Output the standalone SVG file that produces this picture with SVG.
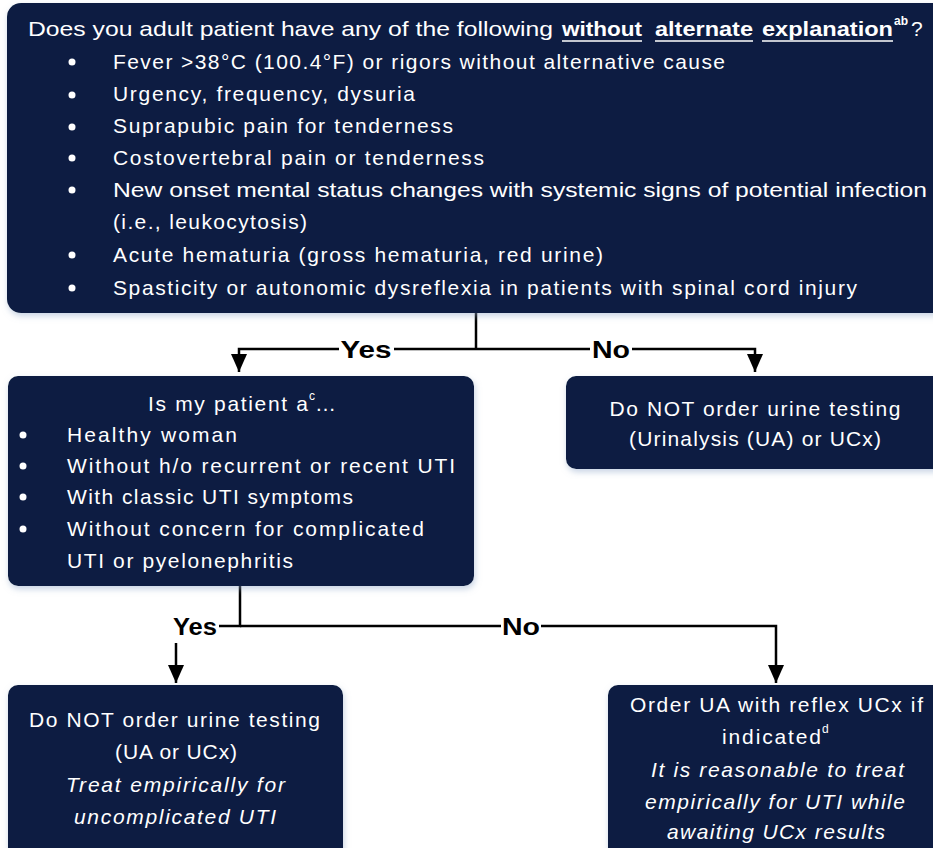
<svg xmlns="http://www.w3.org/2000/svg" width="933" height="848" viewBox="0 0 933 848">
<style>
.box{fill:#071f43;filter:url(#sh);}
.t{font-family:"Liberation Sans",Arial,sans-serif;font-size:21px;fill:#ffffff;}
.c{text-anchor:middle;}
.i{font-style:italic;}
.b{font-weight:bold;}
.sup{font-size:12px;}
.lbl{font-family:"Liberation Sans",Arial,sans-serif;font-size:23px;font-weight:bold;fill:#000;text-anchor:middle;}
.ln{fill:none;stroke:#000;stroke-width:2.5;}
.dot{fill:#fff;}
</style>
<defs>
<filter id="sh" x="-5%" y="-5%" width="110%" height="115%">
<feDropShadow dx="1" dy="3" stdDeviation="3" flood-color="#8fa6c8" flood-opacity="0.5"/>
</filter>
<marker id="ad" markerUnits="userSpaceOnUse" markerWidth="18" markerHeight="16" refX="18" refY="8" orient="auto" viewBox="0 0 18 16">
<path d="M0 0 L18 8 L0 16 Z" fill="#000"/>
</marker>
</defs>
<rect width="933" height="848" fill="#ffffff"/>

<g id="connectors">
<path class="ln" d="M476 313 V349"/>
<path class="ln" d="M339 349 H239 V372" marker-end="url(#ad)"/>
<path class="ln" d="M394 349 H590"/>
<path class="ln" d="M632 349 H755 V372" marker-end="url(#ad)"/>
<path class="ln" d="M240 586 V626 H219"/>
<path class="ln" d="M240 626 H501"/>
<path class="ln" d="M541 626 H776 V683" marker-end="url(#ad)"/>
<path class="ln" d="M176 643 V683" marker-end="url(#ad)"/>
<text class="lbl" x="366" y="358" textLength="51" lengthAdjust="spacingAndGlyphs">Yes</text>
<text class="lbl" x="611" y="358" textLength="38" lengthAdjust="spacingAndGlyphs">No</text>
<text class="lbl" x="195" y="635" textLength="44" lengthAdjust="spacingAndGlyphs">Yes</text>
<text class="lbl" x="521" y="635" textLength="38" lengthAdjust="spacingAndGlyphs">No</text>
</g>

<g id="q1">
<rect class="box" x="7" y="3" width="945" height="310" rx="14"/>
<text class="t" x="28" y="36" textLength="525" lengthAdjust="spacingAndGlyphs">Does you adult patient have any of the following</text>
<text class="t b" x="562" y="36" textLength="80" lengthAdjust="spacingAndGlyphs">without</text>
<text class="t b" x="655" y="36" textLength="98" lengthAdjust="spacingAndGlyphs">alternate</text>
<text class="t b" x="762" y="36" textLength="131" lengthAdjust="spacingAndGlyphs">explanation</text>
<text class="t b sup" x="894" y="25">ab</text>
<text class="t" x="911" y="36">?</text>
<path d="M562 41 H642 M655 41 H753 M762 41 H893" stroke="#fff" stroke-width="1.6"/>
<circle class="dot" cx="72" cy="62" r="3.5"/>
<circle class="dot" cx="72" cy="95" r="3.5"/>
<circle class="dot" cx="72" cy="127" r="3.5"/>
<circle class="dot" cx="72" cy="158" r="3.5"/>
<circle class="dot" cx="72" cy="190" r="3.5"/>
<circle class="dot" cx="72" cy="255" r="3.5"/>
<circle class="dot" cx="72" cy="288" r="3.5"/>
<text class="t" x="113" y="69" textLength="612" lengthAdjust="spacing">Fever &gt;38°C (100.4°F) or rigors without alternative cause</text>
<text class="t" x="113" y="101" textLength="302" lengthAdjust="spacing">Urgency, frequency, dysuria</text>
<text class="t" x="113" y="133" textLength="340" lengthAdjust="spacing">Suprapubic pain for tenderness</text>
<text class="t" x="113" y="165" textLength="371" lengthAdjust="spacing">Costovertebral pain or tenderness</text>
<text class="t" x="113" y="197" textLength="814" lengthAdjust="spacingAndGlyphs">New onset mental status changes with systemic signs of potential infection</text>
<text class="t" x="113" y="229" textLength="194" lengthAdjust="spacing">(i.e., leukocytosis)</text>
<text class="t" x="113" y="262" textLength="490" lengthAdjust="spacing">Acute hematuria (gross hematuria, red urine)</text>
<text class="t" x="113" y="295" textLength="744" lengthAdjust="spacing">Spasticity or autonomic dysreflexia in patients with spinal cord injury</text>
</g>

<g id="q2">
<rect class="box" x="8" y="376" width="466" height="210" rx="10"/>
<text class="t" x="148" y="411" textLength="160" lengthAdjust="spacing">Is my patient a</text>
<text class="t sup" x="309" y="400">c</text>
<text class="t" x="315" y="411">…</text>
<circle class="dot" cx="23" cy="435" r="3.5"/>
<circle class="dot" cx="23" cy="466" r="3.5"/>
<circle class="dot" cx="23" cy="497" r="3.5"/>
<circle class="dot" cx="23" cy="529" r="3.5"/>
<text class="t" x="67" y="442" textLength="170" lengthAdjust="spacing">Healthy woman</text>
<text class="t" x="67" y="473" textLength="388" lengthAdjust="spacing">Without h/o recurrent or recent UTI</text>
<text class="t" x="67" y="504" textLength="286" lengthAdjust="spacing">With classic UTI symptoms</text>
<text class="t" x="67" y="536" textLength="357" lengthAdjust="spacing">Without concern for complicated</text>
<text class="t" x="67" y="568" textLength="226" lengthAdjust="spacing">UTI or pyelonephritis</text>
</g>

<g id="noTest1">
<rect class="box" x="566" y="376" width="380" height="93" rx="10"/>
<text class="t c" x="755" y="416" textLength="291" lengthAdjust="spacing">Do NOT order urine testing</text>
<text class="t c" x="755" y="446" textLength="252" lengthAdjust="spacing">(Urinalysis (UA) or UCx)</text>
</g>

<g id="noTest2">
<rect class="box" x="8" y="685" width="335" height="180" rx="10"/>
<text class="t c" x="174.5" y="727" textLength="291" lengthAdjust="spacing">Do NOT order urine testing</text>
<text class="t c" x="176" y="759" textLength="122" lengthAdjust="spacing">(UA or UCx)</text>
<text class="t c i" x="175.5" y="792" textLength="219" lengthAdjust="spacing">Treat empirically for</text>
<text class="t c i" x="175" y="824" textLength="202" lengthAdjust="spacing">uncomplicated UTI</text>
</g>

<g id="orderUA">
<rect class="box" x="608" y="685" width="345" height="180" rx="10"/>
<text class="t c" x="776.5" y="712" textLength="293" lengthAdjust="spacing">Order UA with reflex UCx if</text>
<text class="t" x="722" y="744" textLength="99" lengthAdjust="spacing">indicated</text>
<text class="t sup" x="822" y="733">d</text>
<text class="t c i" x="777.5" y="777" textLength="253" lengthAdjust="spacing">It is reasonable to treat</text>
<text class="t c i" x="775" y="809" textLength="260" lengthAdjust="spacing">empirically for UTI while</text>
<text class="t c i" x="776" y="839" textLength="218" lengthAdjust="spacing">awaiting UCx results</text>
</g>
</svg>
